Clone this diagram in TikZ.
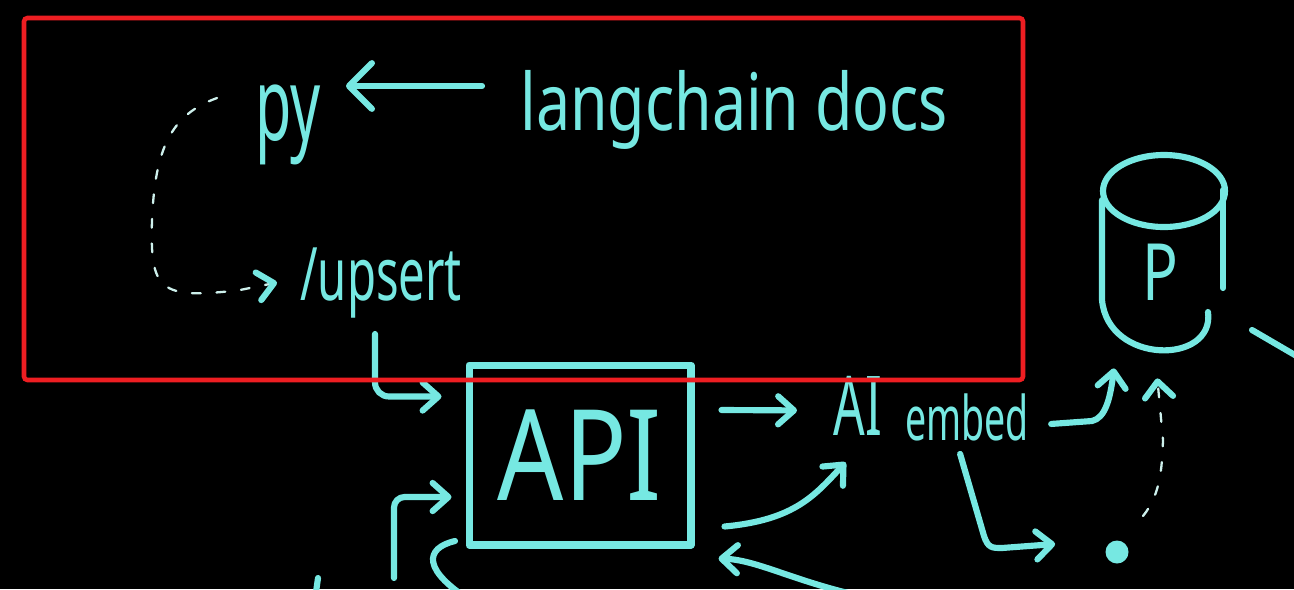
\documentclass[tikz,border=0pt]{standalone}
\usepackage{graphicx}
\usepackage{fontspec}
\setmainfont{Noto Sans}
\usetikzlibrary{arrows.meta,calc}
\definecolor{ink}{RGB}{118,232,226}
\definecolor{chalk}{RGB}{205,240,236}
\definecolor{frame}{RGB}{238,30,34}
\begin{document}
\begin{tikzpicture}[x=0.02cm,y=-0.02cm,
  >={Straight Barb[length=9pt,width=16pt,line width=3.5pt,round]},
  pen/.style={draw=ink,line width=3.5pt,line cap=round,line join=round},
  arr/.style={pen,->},
  dots/.style={draw=chalk,line width=1.3pt,line cap=round,dash pattern=on 5pt off 9pt,-{Straight Barb[length=9pt,width=16pt,line width=3.5pt,round,color=ink]}},
  hand/.style={text=ink,inner sep=0pt,anchor=base west},
]
\fill[black] (0,0) rectangle (1294,589);
\useasboundingbox (0,0) rectangle (1294,589);
\node[hand,font=\fontsize{45}{50}\selectfont] (docs) at (520,130) {\scalebox{0.77}[1]{langchain docs}};
\node[hand,font=\fontsize{58}{62}\selectfont] (py) at (255,140) {\scalebox{0.58}[1]{py}};
\node[hand,font=\fontsize{42}{46}\selectfont] (upsert) at (300,300) {\scalebox{0.64}[1]{/upsert}};
\node[pen,line width=4pt,text=ink,inner sep=0pt,minimum width=4.44cm,minimum height=3.6cm,font=\fontsize{72}{76}\selectfont] (api) at (580,455) {\scalebox{0.82}[1]{API}};
\node[hand,font=\fontsize{47}{50}\selectfont] (ai) at (833,435) {\scalebox{0.6}[1]{AI}};
\node[hand,font=\fontsize{35}{40}\selectfont] (embed) at (905,440) {\scalebox{0.61}[1]{embed}};
\node[hand,font=\fontsize{45}{50}\selectfont] (pc) at (1142,300) {\scalebox{0.75}[1]{P}};
\node[circle,fill=ink,inner sep=0pt,minimum size=0.46cm] (dot) at (1117,552) {};
\coordinate (docsTail) at (482,86);
\coordinate (loopTail) at (217,98);
\coordinate (upsertTail) at (375,334);
\coordinate (leftTail) at (394,578);
\coordinate (leftOut) at (455,541);
\coordinate (rightTail) at (880,600);
\coordinate (edgeA) at (1252,330);
\coordinate (edgeB) at (1300,358);
\coordinate (tickA) at (318,578);
\coordinate (tickB) at (316,592);
\draw[pen] (1164,191) ellipse [x radius=61,y radius=36];
\draw[pen] (1102,200) -- (1102,300) .. controls (1108,365) and (1215,365) .. (1208,312);
\draw[pen] (1223,190) -- (1223,288);
\draw[pen,-{Straight Barb[length=13pt,width=26pt,line width=3.5pt,round]}] (docsTail) -- ([xshift=0.5cm]py.east |- docsTail);
\draw[dots] (loopTail) .. controls (170,115) and (155,150) .. (152,220) .. controls (150,290) and (158,300) .. (240,290) -- ([xshift=-0.46cm]upsert.west);
\draw[arr,rounded corners=8pt] (upsertTail) |- ($(api.north west)+(-24,35)$);
\draw[arr] ($(api.east)+(27,-45)$) -- ($(ai.west)+(-36,5)$);
\draw[arr] ($(api.south east)+(30,-22)$) .. controls (795,520) and (815,495) .. ($(ai.south)+(-12,27)$);
\draw[arr] ($(embed.east)+(22,7)$) -- (1092,421) .. controls (1105,418) and (1110,400) .. ($(pc.south west)+(-28,68)$);
\draw[dots] ($(dot)+(26,-36)$) .. controls (1160,495) and (1162,470) .. (1163,440) -- ($(pc.south)+(-3,78)$);
\draw[arr] ($(embed.south)+(-7,13)$) -- (984,536) .. controls (988,548) and (992,548) .. (1002,548) -- ($(dot.west)+(-50,-8)$);
\draw[arr,rounded corners=6pt] (leftTail) |- ($(api.west)+(-14,42)$);
\draw[pen] (leftOut) .. controls (425,548) and (420,570) .. (476,604);
\draw[arr] (rightTail) .. controls (800,585) and (760,560) .. ($(api.south east)+(24,10)$);
\draw[pen] (edgeA) -- (edgeB);
\draw[pen] (tickA) -- (tickB);
\draw[frame,line width=2.6pt,rounded corners=2pt] (24,18) rectangle (1023,380);
\end{tikzpicture}
\end{document}
